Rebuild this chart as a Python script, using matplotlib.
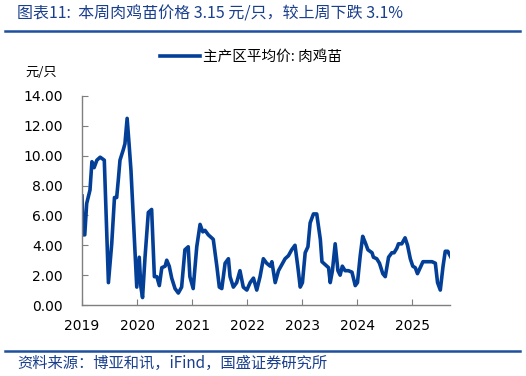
import matplotlib
matplotlib.use("Agg")
import matplotlib.pyplot as plt
from matplotlib.lines import Line2D

# 数据：时间(年份小数) 与 肉鸡苗价格(元/只)
years = [2019.00, 2019.02, 2019.05, 2019.085, 2019.145, 2019.18, 2019.22, 2019.27, 2019.33, 2019.405,
         2019.48, 2019.54, 2019.59, 2019.63, 2019.66, 2019.69, 2019.75, 2019.78, 2019.82, 2019.855,
         2019.89, 2019.95, 2019.995, 2020.04, 2020.07, 2020.10, 2020.145, 2020.205, 2020.265, 2020.315,
         2020.36, 2020.405, 2020.45, 2020.51, 2020.54, 2020.585, 2020.63, 2020.69, 2020.75, 2020.81,
         2020.87, 2020.93, 2020.96, 2021.02, 2021.085, 2021.145, 2021.195, 2021.235, 2021.295, 2021.385,
         2021.45, 2021.495, 2021.54, 2021.60, 2021.66, 2021.69, 2021.75, 2021.81, 2021.87, 2021.93,
         2021.995, 2022.055, 2022.115, 2022.175, 2022.235, 2022.295, 2022.355, 2022.42, 2022.45, 2022.51,
         2022.57, 2022.63, 2022.69, 2022.75, 2022.81, 2022.87, 2022.92, 2022.965, 2023.005, 2023.055,
         2023.105, 2023.145, 2023.205, 2023.265, 2023.33, 2023.36, 2023.42, 2023.48, 2023.51, 2023.55,
         2023.60, 2023.65, 2023.69, 2023.73, 2023.78, 2023.84, 2023.905, 2023.965, 2024.005, 2024.055,
         2024.10, 2024.145, 2024.195, 2024.27, 2024.295, 2024.355, 2024.405, 2024.465, 2024.51, 2024.57,
         2024.63, 2024.67, 2024.72, 2024.75, 2024.81, 2024.87, 2024.915, 2024.965, 2025.01, 2025.055,
         2025.095, 2025.145, 2025.195, 2025.27, 2025.36, 2025.42, 2025.46, 2025.51, 2025.56, 2025.60,
         2025.645, 2025.71]
prices = [7.3, 4.7, 4.7, 6.8, 7.7, 9.6, 9.2, 9.7, 9.9, 9.7,
          1.5, 4.1, 7.2, 7.2, 8.4, 9.7, 10.4, 10.8, 12.5, 10.8,
          9.0, 4.6, 1.2, 3.2, 1.2, 0.5, 3.2, 6.2, 6.4, 1.9,
          1.9, 1.3, 2.5, 2.6, 3.0, 2.6, 1.8, 1.1, 0.8, 1.2,
          3.7, 3.9, 1.9, 1.1, 3.9, 5.4, 4.9, 5.0, 4.7, 4.4,
          2.6, 1.2, 1.1, 2.8, 3.1, 1.9, 1.2, 1.5, 2.3, 1.2,
          1.0, 1.5, 1.8, 1.0, 1.9, 3.1, 2.8, 2.6, 2.9, 1.5,
          2.3, 2.7, 3.1, 3.3, 3.7, 4.0, 2.6, 1.2, 1.5, 3.5,
          3.9, 5.5, 6.1, 6.1, 4.4, 2.9, 2.7, 2.5, 1.5, 2.3,
          4.1, 2.3, 2.0, 2.6, 2.3, 2.3, 2.2, 1.3, 1.5, 3.3,
          4.6, 4.2, 3.7, 3.5, 3.2, 3.1, 2.8, 2.1, 1.9, 3.2,
          3.5, 3.5, 3.8, 4.1, 4.1, 4.5, 4.0, 3.1, 2.6, 2.5,
          2.1, 2.5, 2.9, 2.9, 2.9, 2.8, 1.5, 1.0, 2.6, 3.6,
          3.6, 3.15]

year_ticks = [2019, 2020, 2021, 2022, 2023, 2024, 2025]
y_ticks = [0, 2, 4, 6, 8, 10, 12, 14]

title_text = "图表11:  本周肉鸡苗价格 3.15 元/只，较上周下跌 3.1%"
legend_label = "主产区平均价: 肉鸡苗"
unit_label = "元/只"
source_text = "资料来源：博亚和讯，iFind，国盛证券研究所"

cjk = ["Noto Sans CJK SC", "DejaVu Sans"]
line_color = "#033f97"
text_blue = "#1a3f8c"
rule_blue = "#1f4f9f"
axis_gray = "#7f7f7f"

fig = plt.figure(figsize=(5.26, 3.76), dpi=100)
ax = fig.add_axes([0.1559, 0.1888, 0.70, 0.5559])

ax.plot(years, prices, color=line_color, linewidth=2.6, solid_joinstyle="round",
        label=legend_label)

ax.set_xlim(2019, 2025.69)
ax.set_ylim(0, 14)
ax.set_xticks(year_ticks)
ax.set_xticklabels([str(y) for y in year_ticks])
ax.set_yticks(y_ticks)
ax.set_yticklabels([f"{v:.2f}" for v in y_ticks])

for s in ["top", "right"]:
    ax.spines[s].set_visible(False)
for s in ["left", "bottom"]:
    ax.spines[s].set_color(axis_gray)
    ax.spines[s].set_linewidth(1.0)
ax.tick_params(axis="both", direction="in", length=4, color=axis_gray,
               labelsize=10, labelcolor="black")
ax.tick_params(axis="y", pad=14)
ax.tick_params(axis="x", pad=10)

leg = fig.legend(loc="center", bbox_to_anchor=(0.477, 0.848), frameon=False,
                 handlelength=2.75, handletextpad=0.2,
                 prop={"family": cjk, "size": 10.5})

fig.text(25 / 526, 1 - 72 / 376, unit_label, family=cjk, fontsize=9.5,
         ha="left", va="center")

# 标题与分隔线
fig.text(17 / 526, 1 - 14 / 376, title_text, family=cjk, fontsize=11.5,
         style="italic", color=text_blue, ha="left", va="center")
fig.add_artist(Line2D([5 / 526, 520 / 526], [1 - 31 / 376, 1 - 31 / 376],
                      transform=fig.transFigure, color=rule_blue, linewidth=1.8))
fig.add_artist(Line2D([5 / 526, 520 / 526], [1 - 351 / 376, 1 - 351 / 376],
                      transform=fig.transFigure, color=rule_blue, linewidth=1.8))
fig.text(17 / 526, 1 - 363 / 376, source_text, family=cjk, fontsize=11,
         style="italic", color=text_blue, ha="left", va="center")

fig.savefig("out.png", dpi=100)
